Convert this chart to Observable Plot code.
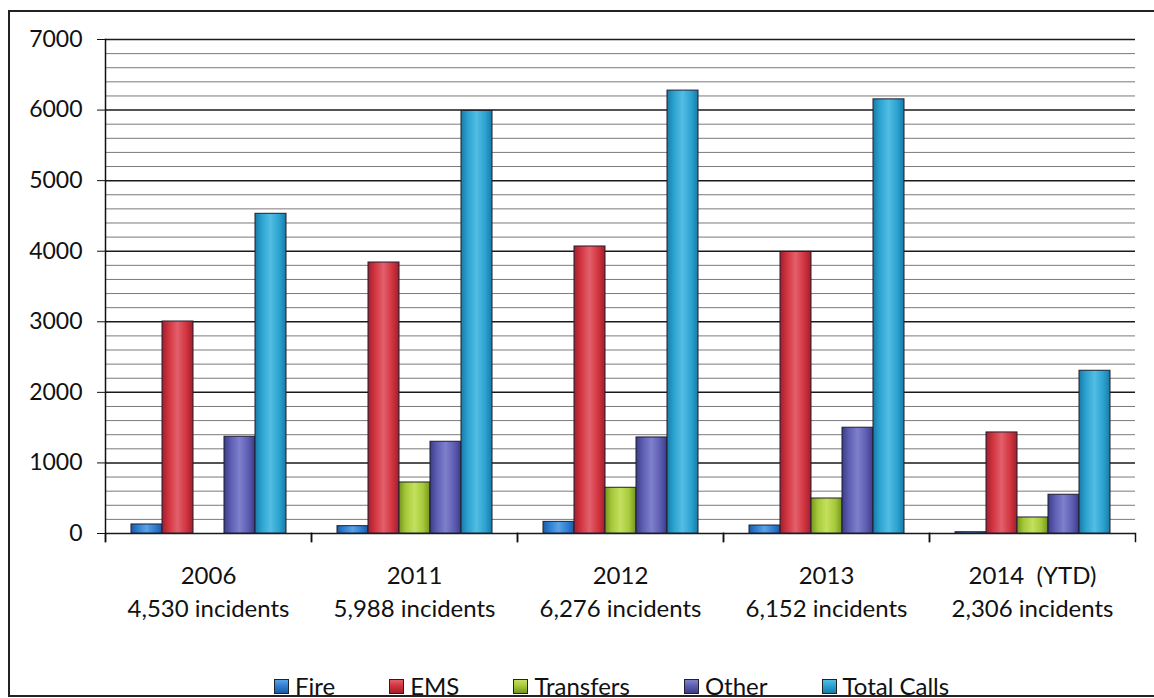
<!DOCTYPE html>
<html>
<head>
<meta charset="utf-8">
<script src="https://cdn.jsdelivr.net/npm/d3@7"></script>
<script src="https://cdn.jsdelivr.net/npm/@observablehq/plot@0.6"></script>
<style>
  html, body { margin: 0; padding: 0; background: #fff; overflow: hidden; width: 1154px; height: 698px; }
  #page { position: relative; width: 1154px; height: 698px; font-family: Lato, "Open Sans", sans-serif; }
  #border { position: absolute; left: 8px; top: 10px; width: 1160px; height: 687px; border: 2px solid #222; box-sizing: border-box; }
  #chart { position: absolute; left: 0; top: 0; }
  #chart svg text { white-space: pre; }
  #legend { position: absolute; left: 274px; top: 674px; display: flex; gap: 54px; font-size: 24px; line-height: 24px; color: #111; }
  .item { display: flex; align-items: center; gap: 6px; }
  .sw { width: 13px; height: 13px; border: 1px solid #222; }
</style>
</head>
<body>
<div id="page">
  <div id="border"></div>
  <svg width="0" height="0" style="position:absolute">
    <defs id="grads"></defs>
  </svg>
  <div id="chart"></div>
  <div id="legend"></div>
</div>
<script>
// Call volumes by type and year
const years = ["2006", "2011", "2012", "2013", "2014  (YTD)"];
const series = ["Fire", "EMS", "Transfers", "Other", "Total Calls"];
const fire = [128, 104, 165, 113, 18];
const ems = [3004, 3840, 4067, 3990, 1432];
const transfers = [0, 723, 648, 496, 227];
const other = [1371, 1300, 1361, 1499, 549];
const totalCalls = [4530, 5988, 6276, 6152, 2306];

// y-axis ticks
const majorTicks = [0, 1000, 2000, 3000, 4000, 5000, 6000, 7000];
const minorTicks = d3.range(200, 7000, 200).filter(v => v % 1000 !== 0);

// base, edge and highlight colours for each series
const palette = {
  "Fire":        ["#2f7fd2", "#1d5aa6", "#5aa2e6"],
  "EMS":         ["#d2343f", "#a01f2c", "#e2606a"],
  "Transfers":   ["#a6c93a", "#74951d", "#c4e05e"],
  "Other":       ["#5d5eb3", "#3b3c86", "#7e80cc"],
  "Total Calls": ["#2ba3d1", "#197aa6", "#52bde3"]
};

const valuesBySeries = {
  "Fire": fire, "EMS": ems, "Transfers": transfers, "Other": other, "Total Calls": totalCalls
};

const rows = [];
series.forEach(s => {
  valuesBySeries[s].forEach((v, i) => rows.push({year: years[i], series: s, value: v}));
});

// horizontal shading gradients so the bars read as rounded columns
const defs = d3.select("#grads");
series.forEach((s, i) => {
  const [base, edge, light] = palette[s];
  const g = defs.append("linearGradient").attr("id", "g" + i).attr("x1", 0).attr("x2", 1).attr("y1", 0).attr("y2", 0);
  g.append("stop").attr("offset", "0%").attr("stop-color", edge);
  g.append("stop").attr("offset", "22%").attr("stop-color", base);
  g.append("stop").attr("offset", "50%").attr("stop-color", light);
  g.append("stop").attr("offset", "78%").attr("stop-color", base);
  g.append("stop").attr("offset", "100%").attr("stop-color", edge);
});

const W = 1154, H = 625;
const mTop = 39, mBottom = 92, mLeft = 103, mRight = 17;
const innerH = H - mTop - mBottom;
const fmt = d3.format(",");

const chart = Plot.plot({
  width: W,
  height: H,
  marginTop: mTop,
  marginBottom: mBottom,
  marginLeft: mLeft,
  marginRight: mRight,
  style: {fontFamily: "Lato, 'Open Sans', sans-serif", fontSize: "23px", color: "#111", background: "transparent"},
  fx: {domain: years, padding: 0, label: null},
  x: {domain: series, paddingInner: 0, paddingOuter: 0.785, axis: null},
  y: {domain: [0, 7000], label: null},
  marks: [
    Plot.ruleY(minorTicks, {stroke: "#7a7a7a", strokeWidth: 1}),
    Plot.ruleY(majorTicks, {stroke: "#1a1a1a", strokeWidth: 1.5}),
    ...series.map((s, i) =>
      Plot.barY(rows.filter(r => r.series === s && r.value > 0), {
        fx: "year", x: "series", y: "value",
        fill: `url(#g${i})`, stroke: "#1e1e30", strokeWidth: 1
      })
    ),
    // y axis line and category boundary ticks
    Plot.frame({anchor: "left", facetAnchor: "left", insetBottom: -8, stroke: "#111", strokeWidth: 1.5}),
    Plot.frame({anchor: "left", insetTop: innerH, insetBottom: -8, stroke: "#111", strokeWidth: 1.5}),
    Plot.frame({anchor: "right", insetTop: innerH, insetBottom: -8, stroke: "#111", strokeWidth: 1.5}),
    Plot.axisY({ticks: majorTicks, tickSize: 8, tickPadding: 15, fontSize: 23, tickFormat: d => String(d), stroke: "#111"}),
    Plot.axisFx({
      anchor: "bottom", tickSize: 0, tickPadding: 27, fontSize: 24, lineHeight: 1.375, label: null,
      tickFormat: d => `${d}\n${fmt(totalCalls[years.indexOf(d)])} incidents`
    })
  ]
});
document.getElementById("chart").append(chart);

// legend
const legend = d3.select("#legend");
series.forEach((s, i) => {
  const item = legend.append("div").attr("class", "item");
  item.append("div").attr("class", "sw")
    .style("background", `linear-gradient(180deg, ${palette[s][2]}, ${palette[s][0]} 45%, ${palette[s][1]})`);
  item.append("span").text(s);
});
</script>
</body>
</html>
